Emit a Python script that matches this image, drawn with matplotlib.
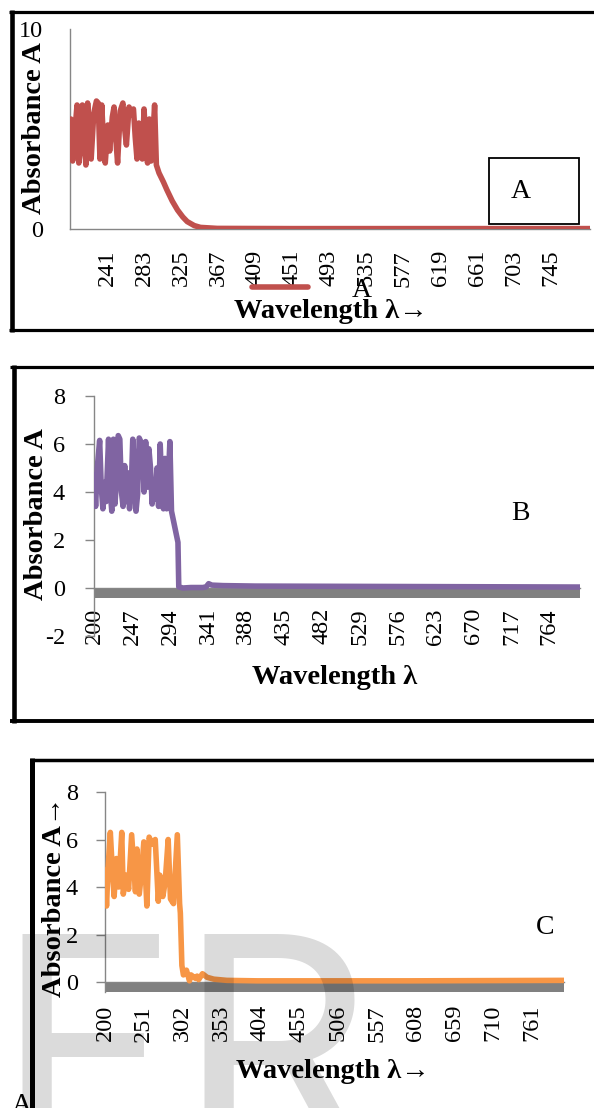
import matplotlib
matplotlib.use('Agg')
import matplotlib.pyplot as plt
from matplotlib.lines import Line2D
from matplotlib.patches import Rectangle

plt.rcParams['font.family'] = ['Liberation Serif', 'DejaVu Serif']
plt.rcParams['axes.unicode_minus'] = False

W, H = 594, 1108

# ---- panel A (red) ----
wl_a = [200, 202, 204, 207, 209, 211, 213, 215, 217, 219, 221, 223, 226, 229, 231,
        233, 235, 237, 239, 242, 244, 247, 249, 251, 253, 256, 259, 261, 263, 266,
        268, 271, 273, 275, 277, 279, 281, 283, 285, 287, 289, 291, 293, 295, 297,
        300, 305, 309, 315, 321, 327, 332, 340, 347, 366, 450, 600, 789]
abs_a = [5.5, 3.4, 4.6, 6.2, 3.3, 4.0, 6.2, 4.8, 3.2, 6.3, 5.0, 3.5, 5.8, 6.4, 6.3,
         3.5, 6.2, 4.4, 3.3, 5.2, 3.9, 5.6, 6.1, 4.5, 3.3, 5.9, 6.3, 5.0, 4.2, 6.1,
         5.7, 6.0, 4.6, 3.5, 5.3, 4.9, 3.5, 6.0, 4.4, 3.3, 5.5, 3.4, 4.6, 6.2, 3.2,
         2.8, 2.35, 1.95, 1.4, 0.95, 0.6, 0.37, 0.17, 0.08, 0.03, 0.02, 0.02, 0.02]
ticks_a = [241, 283, 325, 367, 409, 451, 493, 535, 577, 619, 661, 703, 745]

# ---- panel B (purple) ----
wl_b = [200, 202, 204, 207, 209, 211, 213, 215, 218, 220, 222, 224, 226, 228, 230,
        232, 234, 236, 238, 240, 242, 244, 246, 248, 250, 252, 254, 256, 258, 260,
        262, 264, 266, 268, 270, 272, 274, 276, 278, 280, 282, 284, 286, 288, 290,
        292, 294, 296, 304, 305, 310, 320, 335, 339, 342, 346, 360, 400, 500, 600,
        700, 802]
abs_b = [4.7, 3.4, 5.0, 6.15, 4.2, 3.3, 4.4, 3.6, 6.2, 4.1, 3.2, 6.2, 3.5, 4.6, 6.35,
         6.2, 4.0, 3.4, 5.1, 3.6, 4.8, 3.3, 4.0, 6.2, 5.0, 3.2, 3.9, 6.25, 6.1, 5.9,
         4.0, 6.1, 4.2, 5.8, 5.0, 3.5, 4.3, 3.7, 5.0, 3.4, 6.0, 4.1, 3.3, 5.4, 3.3,
         4.5, 6.1, 3.2, 1.9, 0.05, 0.0, 0.02, 0.02, 0.05, 0.18, 0.12, 0.1, 0.08, 0.07, 0.06,
         0.05, 0.04]
band_b_wl = [200, 802]
band_b = [-0.42, -0.42]
ticks_b = [200, 247, 294, 341, 388, 435, 482, 529, 576, 623, 670, 717, 764]

# ---- panel C (orange) ----
wl_c = [200, 202, 204, 207, 210, 212, 215, 218, 222, 224, 228, 231, 235, 240, 242,
        245, 248, 251, 255, 258, 262, 266, 270, 272, 276, 279, 283, 286, 290, 295,
        298, 299, 301, 303, 307, 311, 313, 319, 321, 323, 328, 334, 343, 360, 400,
        600, 803]
abs_c = [4.7, 3.2, 4.8, 6.3, 4.5, 3.6, 5.2, 4.0, 6.3, 3.7, 4.5, 3.9, 6.2, 3.8, 5.6,
         3.7, 4.6, 5.9, 3.2, 6.1, 5.8, 6.0, 3.4, 4.5, 3.6, 4.2, 6.0, 3.5, 3.3, 6.2,
         3.3, 2.9, 0.7, 0.3, 0.5, 0.05, 0.3, 0.15, 0.25, 0.1, 0.35, 0.2, 0.12, 0.07, 0.05,
         0.05, 0.07]
band_c_wl = [200, 803]
band_c = [-0.42, -0.42]
ticks_c = [200, 251, 302, 353, 404, 455, 506, 557, 608, 659, 710, 761]

RED, PURPLE, ORANGE = '#C0504D', '#8064A2', '#F79646'
AXGRAY, BANDGRAY = '#868686', '#808080'
TICK_FS, TITLE_FS, TAG_FS = 17.5, 20.5, 20

fig = plt.figure(figsize=(W / 100, H / 100), dpi=100)


def fx(x):
    return x / W


def fy(y):
    return 1 - y / H


def px_axes(l, t, r, b):
    return fig.add_axes([l / W, 1 - b / H, (r - l) / W, (b - t) / H])


def hline(x0, x1, y, lw):
    fig.add_artist(Line2D([fx(x0), fx(x1)], [fy(y), fy(y)], transform=fig.transFigure,
                          color='black', lw=lw, solid_capstyle='butt'))


def vline(x, y0, y1, lw):
    fig.add_artist(Line2D([fx(x), fx(x)], [fy(y0), fy(y1)], transform=fig.transFigure,
                          color='black', lw=lw, solid_capstyle='butt'))


def style(ax, box, xlim, ylim, yticks, xticks, ylen, ypad, xpad, ylab, ylab_xy, xlab, xlab_xy):
    l, t, r, b = box
    ax.set_xlim(*xlim)
    ax.set_ylim(*ylim)
    ax.patch.set_alpha(0)
    for s in ['top', 'right']:
        ax.spines[s].set_visible(False)
    for s in ['left', 'bottom']:
        ax.spines[s].set_color(AXGRAY)
        ax.spines[s].set_linewidth(1.0)
    ax.spines['bottom'].set_position(('data', 0))
    ax.set_yticks(yticks)
    ax.set_xticks(xticks)
    ax.set_xticklabels([str(v) for v in xticks], rotation=90)
    ax.tick_params(axis='y', length=ylen, width=1, color=AXGRAY, pad=ypad, labelsize=TICK_FS)
    ax.tick_params(axis='x', length=0, pad=xpad, labelsize=TICK_FS)
    ax.set_ylabel(ylab, fontsize=TITLE_FS, fontweight='bold', va='center')
    ax.yaxis.set_label_coords((ylab_xy[0] - l) / (r - l), (b - ylab_xy[1]) / (b - t))
    ax.set_xlabel(xlab, fontsize=TITLE_FS, fontweight='bold', va='center')
    ax.xaxis.set_label_coords((xlab_xy[0] - l) / (r - l), (b - xlab_xy[1]) / (b - t))


line_kw = dict(lw=4.0, solid_capstyle='round', solid_joinstyle='round', zorder=3)

# ---------- panel A ----------
hline(9, 594, 11.7, 2.3)
vline(11.7, 9.5, 331.5, 3.3)
hline(9, 594, 330, 2.3)

box_a = (70, 29, 590, 229)
ax_a = px_axes(*box_a)
la, = ax_a.plot(wl_a, abs_a, color=RED, **line_kw)
style(ax_a, box_a, (199, 789), (0, 10), [0, 10], ticks_a, 0, 19.5, 15,
      'Absorbance A', (35, 128), 'Wavelength λ→', (331, 312))
ax_a.legend([la], ['A'], loc='center', bbox_to_anchor=(fx(312), fy(290)),
            bbox_transform=fig.transFigure, frameon=False, fontsize=TAG_FS,
            handlelength=2.0, handletextpad=1.6, borderpad=0)
fig.add_artist(Rectangle((fx(489), fy(224)), fx(90), (224 - 158) / H,
                         transform=fig.transFigure, fc='white', ec='black', lw=1.3))
fig.text(fx(521), fy(191), 'A', fontsize=TAG_FS, ha='center', va='center')

# ---------- panel B ----------
hline(10, 594, 366.7, 2.3)
vline(13.5, 365, 722.5, 3.3)
hline(10, 594, 720.5, 2.8)

box_b = (94, 396, 580, 636)
ax_b = px_axes(*box_b)
ax_b.fill_between(band_b_wl, band_b, 0, color=BANDGRAY, lw=0, zorder=2)
ax_b.plot(wl_b, abs_b, color=PURPLE, **line_kw)
style(ax_b, box_b, (200, 802), (-2, 8), [-2, 0, 2, 4, 6, 8], ticks_b, 6.5, 14.4, 14.4,
      'Absorbance A', (37, 514), 'Wavelength λ', (335, 678))
fig.text(fx(520), fy(514), 'B', fontsize=TAG_FS, ha='center', va='center')

# ---------- panel C ----------
hline(30, 594, 760, 2.5)
vline(32, 758.2, 1108, 3.6)

box_c = (105, 792, 564, 992)
ax_c = px_axes(*box_c)
ax_c.fill_between(band_c_wl, band_c, 0, color=BANDGRAY, lw=0, zorder=2)
ax_c.plot(wl_c, abs_c, color=ORANGE, **line_kw)
style(ax_c, box_c, (200, 803), (-0.42, 8), [0, 2, 4, 6, 8], ticks_c, 6.5, 13, 16.5,
      'Absorbance A→', (55, 897), 'Wavelength λ→', (333, 1071))
fig.text(fx(545), fy(927), 'C', fontsize=TAG_FS, ha='center', va='center')

fig.text(fx(12), fy(1112), 'A', fontsize=TAG_FS, va='baseline')

# watermark letters
wm_kw = dict(fontsize=223, family=['Roboto', 'DejaVu Sans'], fontweight='normal',
             color='black', alpha=0.14, va='baseline', zorder=10)
fig.text(fx(-4), fy(1153), 'F', **wm_kw)
fig.text(fx(178), fy(1153), 'R', **wm_kw)

fig.savefig('out.png', dpi=100)
